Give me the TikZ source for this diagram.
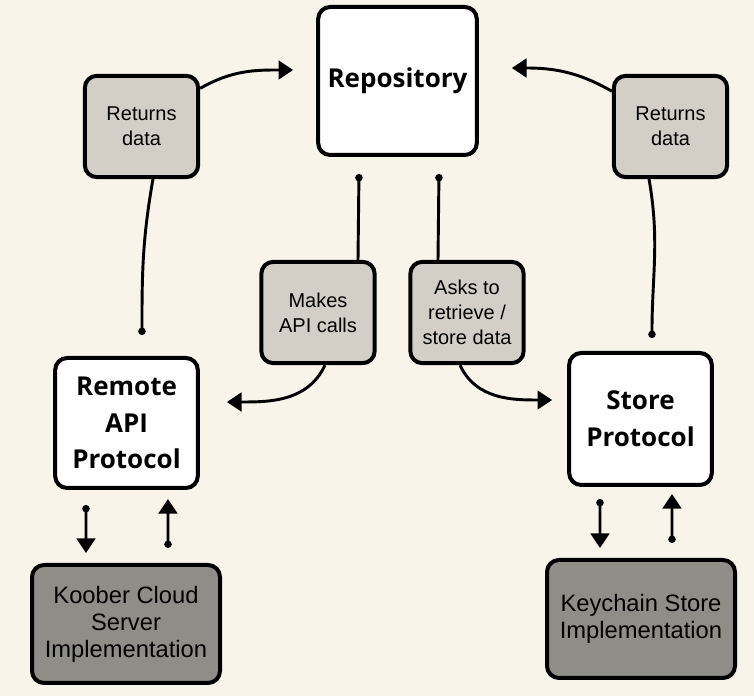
\documentclass[tikz,border=0pt]{standalone}
\usepackage{fontspec}
\setmainfont{Liberation Sans}
\newfontfamily\headfont{Open Sans}
\usepackage{xcolor}
\usetikzlibrary{arrows.meta}
\definecolor{paper}{HTML}{F8F4EA}
\definecolor{notegray}{HTML}{D3CFC7}
\definecolor{implgray}{HTML}{8E8D88}
\tikzset{
box/.style={draw=black, line width=3pt, rounded corners=9pt, align=center, inner sep=0pt},
protocol/.style={box, fill=white, font=\headfont\bfseries\fontsize{19.5}{27.5}\selectfont},
note/.style={box, fill=notegray, text=black, minimum width=85pt, minimum height=76pt, font=\fontsize{15}{18.75}\selectfont},
impl/.style={box, fill=implgray, text=black, minimum width=141pt, minimum height=88.5pt, font=\fontsize{17.8}{20.25}\selectfont},
tail/.style={line width=2.2pt, line cap=round, {Circle[length=5.5pt]}-},
flow/.style={line width=2.2pt, -{Triangle[length=11pt,width=14pt]}},
call/.style={line width=2.2pt, {Circle[length=5.5pt]}-{Triangle[length=11pt,width=14pt]}}
}

\begin{document}
\begin{tikzpicture}[x=0.75pt,y=0.75pt]
\fill[paper] (0,0) rectangle (754,696);
\useasboundingbox (0,0) rectangle (754,696);
\node[protocol, minimum width=119pt, minimum height=111pt] (repo) at (397.5,615) {Repository};
\node[note] (retleft) at (141.5,569.5) {Returns\\data};
\node[note] (retright) at (670.5,569.5) {Returns\\data};
\node[note] (makes) at (318,383.5) {Makes\\API calls};
\node[note] (asks) at (467,383.5) {Asks to\\retrieve /\\store data};
\node[protocol, minimum width=107pt, minimum height=97.5pt] (remote) at (126.5,273) {Remote\\API\\Protocol};
\node[protocol, minimum width=107pt, minimum height=99pt] (store) at (640.5,277) {Store\\Protocol};
\node[impl] (koober) at (126,72) {Koober Cloud\\Server\\Implementation};
\node[impl] (keychain) at (641,77) {Keychain Store\\Implementation};

\draw[tail] ([xshift=11.6pt,yshift=15.75pt]remote.north) to[out=90,in=-100] ([xshift=8.6pt]retleft.south);
\draw[flow] (retleft.33) to[out=30,in=180] ([xshift=-17.25pt,yshift=8.25pt]repo.west);
\draw[tail] ([xshift=8.6pt,yshift=9.75pt]store.north) to[out=90,in=-80] ([xshift=-16.1pt]retright.south);
\draw[flow] (retright.149) to[out=150,in=0] ([xshift=24.75pt,yshift=9.75pt]repo.east);
\draw[tail] ([xshift=-28.9pt,yshift=-12.75pt]repo.south) -- ([xshift=30pt]makes.north);
\draw[tail] ([xshift=31.1pt,yshift=-12.75pt]repo.south) -- ([xshift=-21.75pt]asks.north);
\draw[flow] ([xshift=5.25pt]makes.south) to[out=-115,in=0] ([xshift=20.25pt,yshift=15.75pt]remote.east);
\draw[flow] ([xshift=-5.25pt]asks.south) to[out=-65,in=180] ([xshift=-11.25pt,yshift=14.25pt]store.west);
\draw[call] ([xshift=-30.4pt,yshift=-11.25pt]remote.south) -- ([xshift=-30pt,yshift=7.5pt]koober.north);
\draw[call] ([xshift=31.5pt,yshift=11.25pt]koober.north) -- ([xshift=31.1pt,yshift=-6.75pt]remote.south);
\draw[call] ([xshift=-30.4pt,yshift=-9pt]store.south) -- ([xshift=-30.75pt,yshift=7.5pt]keychain.north);
\draw[call] ([xshift=23.25pt,yshift=11.25pt]keychain.north) -- ([xshift=23.6pt,yshift=-5.25pt]store.south);
\end{tikzpicture}
\end{document}
